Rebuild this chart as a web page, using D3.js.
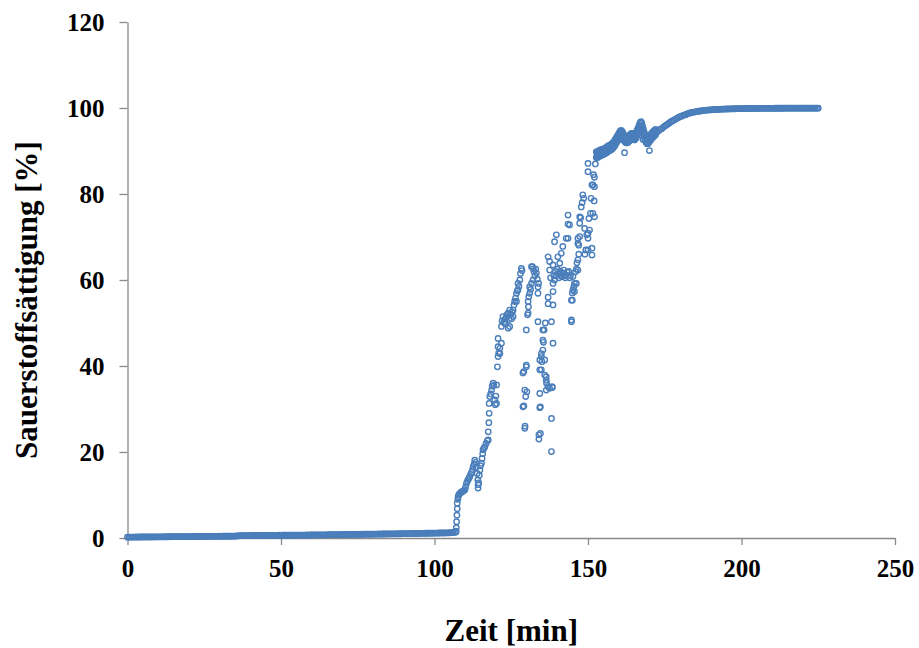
<!DOCTYPE html>
<html>
<head>
<meta charset="utf-8">
<script src="https://cdn.jsdelivr.net/npm/d3@7"></script>
<style>
  html, body { margin: 0; padding: 0; background: #fff; }
  svg { display: block; }
  .tick text, .title { font-family: "Liberation Serif", "Times New Roman", serif; font-weight: bold; fill: #000; }
</style>
</head>
<body>
<svg id="chart" width="919" height="648"></svg>
<script>
// ---------- DATA ----------
const xTicks = [0, 50, 100, 150, 200, 250];
const yTicks = [0, 20, 40, 60, 80, 100, 120];
const xTitle = "Zeit [min]";
const yTitle = "Sauerstoffsättigung [%]";

// baseline: sampled every 0.5 min from 0 to 107 min
const baselineStart = 0, baselineStep = 0.5;
const baselineValues = [
  0.20,0.21,0.20,0.22,0.21,0.22,0.23,0.22,0.23,0.24,
  0.23,0.24,0.25,0.24,0.25,0.26,0.25,0.26,0.27,0.26,
  0.27,0.28,0.27,0.28,0.29,0.28,0.29,0.30,0.29,0.30,
  0.31,0.30,0.31,0.32,0.31,0.32,0.33,0.32,0.33,0.34,
  0.33,0.34,0.35,0.34,0.35,0.36,0.35,0.36,0.37,0.36,
  0.37,0.38,0.37,0.38,0.39,0.38,0.39,0.40,0.39,0.40,
  0.41,0.40,0.41,0.42,0.41,0.42,0.43,0.42,0.43,0.44,
  0.45,0.47,0.50,0.53,0.55,0.56,0.55,0.56,0.57,0.56,
  0.57,0.58,0.57,0.58,0.59,0.58,0.59,0.60,0.59,0.60,
  0.61,0.60,0.61,0.62,0.61,0.62,0.63,0.62,0.63,0.64,
  0.63,0.64,0.65,0.64,0.65,0.66,0.65,0.66,0.67,0.66,
  0.67,0.68,0.67,0.68,0.69,0.68,0.69,0.70,0.69,0.70,
  0.71,0.72,0.71,0.72,0.73,0.74,0.73,0.74,0.75,0.74,
  0.75,0.76,0.77,0.76,0.77,0.78,0.79,0.78,0.79,0.80,
  0.81,0.80,0.81,0.82,0.83,0.82,0.83,0.84,0.85,0.84,
  0.85,0.86,0.87,0.86,0.87,0.88,0.89,0.88,0.89,0.90,
  0.91,0.90,0.91,0.92,0.93,0.92,0.93,0.94,0.95,0.94,
  0.95,0.96,0.97,0.96,0.97,0.98,0.99,0.98,0.99,1.00,
  1.01,1.00,1.02,1.03,1.02,1.04,1.05,1.04,1.06,1.07,
  1.06,1.08,1.09,1.08,1.10,1.11,1.10,1.12,1.13,1.12,
  1.14,1.15,1.14,1.16,1.17,1.18,1.17,1.19,1.20,1.21,
  1.22,1.24,1.26,1.30,1.40
];

// transition phase: [time min, saturation %]
const transitionPoints = [
  [107.0,1.6],[107.1,2.4],[107.2,3.8],[107.3,5.3],[107.4,6.8],[107.4,8.1],[107.6,9.0],[107.7,9.6],[107.9,10.0],[108.1,10.2],
  [108.3,10.4],[108.6,10.6],[108.9,10.7],[109.2,10.9],[109.5,11.0],[109.9,11.2],[110.1,11.8],[110.4,12.7],[110.7,13.2],[111.0,13.6],
  [111.3,14.0],[111.5,14.3],[111.8,14.8],[112.1,15.3],[112.4,15.9],[112.6,16.6],[112.9,17.2],[113.1,18.1],[113.4,17.6],[113.6,16.5],
  [113.9,15.0],[114.1,13.5],[114.2,12.4],[114.2,11.6],[114.4,12.8],[114.6,14.6],[114.8,15.8],[115.0,16.8],[115.3,17.4],[115.5,18.5],
  [115.7,19.6],[115.8,20.5],[116.1,20.9],[116.4,21.2],[116.8,22.0],[117.2,22.6],[117.5,22.8],[117.5,24.7],[117.7,26.8],[117.8,29.0],
  [117.8,31.3],[118.0,32.9],[118.3,33.5],[118.6,34.4],[118.8,35.3],[119.1,36.0],[119.3,35.5],[119.6,32.1],[119.8,31.0],[120.0,33.0],
  [120.2,35.6],[120.2,31.3],[120.5,39.8],[120.7,42.2],[120.7,44.5],[120.7,46.4],[120.9,43.0],[121.3,42.9],[121.3,44.1],[121.8,45.3],
  [121.8,49.2],[122.0,50.5],[122.3,51.5],[122.6,50.2],[122.9,49.9],[123.1,51.0],[123.4,51.5],[123.7,52.0],[124.0,52.3],[124.0,48.8],
  [124.3,50.8],[124.5,49.2],[124.5,53.0],[124.8,52.0],[125.1,51.0],[125.3,52.5],[125.6,51.5],[125.6,53.0],[125.9,54.2],[126.1,55.0],
  [126.4,55.8],[126.7,56.9],[126.7,55.0],[127.0,57.5],[127.2,57.7],[127.2,59.2],[127.5,58.5],[127.8,60.0],[128.0,61.5],[128.3,62.7],
  [128.5,62.2],[128.8,38.4],[128.8,30.5],[129.1,38.7],[129.1,30.7],[129.4,34.4],[129.4,25.5],[129.5,26.0],[129.7,32.9],[129.9,39.8],
  [129.9,40.2],[129.9,48.4],[130.1,34.0],[130.3,51.9],[130.5,52.3],[130.5,55.0],[130.6,53.8],[130.7,56.1],[131.0,56.9],[131.0,58.4],
  [131.3,57.8],[131.6,59.2],[131.6,63.1],[131.9,63.1],[132.1,60.0],[132.2,62.6],[132.4,62.0],[132.7,61.0],[133.0,62.5],[133.2,61.6],
  [133.5,60.2],[133.7,58.4],[133.7,56.9],[133.7,50.3],[133.9,59.2],[134.0,24.0],[134.0,23.0],[134.3,30.3],[134.3,33.6],[134.3,41.4],
  [134.3,39.1],[134.5,30.5],[134.5,24.3],[134.8,42.9],[134.8,42.2],[134.8,39.1],[135.0,41.0],[135.3,43.7],[135.3,46.0],[135.3,48.4],
  [135.5,45.5],[135.7,48.4],[135.9,37.9],[135.9,41.4],[136.1,50.0],[136.4,37.5],[136.4,36.7],[136.4,34.4],[136.5,36.0],[137.0,35.2],
  [137.0,56.0],[137.0,54.5],[137.0,65.4],[137.5,34.8],[137.5,62.3],[137.5,64.3],[137.8,60.5],[138.1,27.8],[138.1,20.1],[138.1,50.3],
  [138.3,35.2],[138.4,35.0],[138.6,45.3],[138.6,54.2],[138.6,57.3],[138.6,59.2],[138.6,63.5],[138.9,61.0],[139.1,60.0],[139.1,68.9],
  [139.4,62.0],[139.7,70.5],[139.7,61.0],[140.0,62.5],[140.2,65.4],[140.2,61.5],[140.5,60.5],[140.8,61.6],[140.8,63.9],[141.0,62.0],
  [141.3,66.2],[141.3,61.0],[141.6,60.8],[141.8,67.8],[141.8,61.6],[142.1,62.3],[142.4,61.0],[142.6,60.5],[142.9,69.7],[142.9,61.2],
  [143.2,61.8],[143.5,75.1],[143.5,73.0],[143.5,69.7],[143.7,62.0],[144.0,72.8],[144.0,60.5],[144.3,61.0],[144.6,50.3],[144.6,50.7],
  [144.6,55.3],[144.9,55.3],[144.9,57.0],[145.1,57.7],[145.1,60.8],[145.4,58.5],[145.6,57.3],[145.6,59.2],[145.9,61.9],[146.2,59.2],
  [146.2,62.5],[146.4,64.0],[146.7,62.3],[146.7,64.7],[146.7,68.5],[146.7,69.7],[147.0,66.0],[147.0,68.1],[147.3,70.1],[147.3,73.2],
  [147.3,74.7],[147.6,74.5],[147.8,77.0],[148.1,78.0],[148.3,79.8],[148.6,79.0],[148.9,72.0],[149.0,66.0],[149.3,67.0],[149.6,70.5],
  [150.0,67.0],[150.0,69.7],[150.0,70.9],[150.0,85.2],[150.0,87.1],[150.3,74.3],[150.5,71.6],[150.8,75.5],[151.0,79.0],[151.3,82.1],
  [151.3,67.4],[151.3,65.8],[151.6,75.5],[151.6,82.1],[151.8,84.5],[152.0,78.4],[152.1,83.9],[152.1,81.7],[152.1,74.7],[152.4,87.0],
  [152.7,88.5],[152.7,89.8],[152.9,88.6],[161.9,89.6],[167.9,92.7],[170.0,90.1]
];

// plateau band (upper and lower edge of the noisy trace): every 0.25 min, 153 to 172 min
const bandStart = 153, bandStep = 0.25;
const bandUpperValues = [
  89.8,89.9,90.0,90.1,90.2,90.3,90.3,90.4,90.4,90.5,
  90.6,90.7,90.8,91.0,91.1,91.2,91.3,91.4,91.5,91.6,
  91.8,92.0,92.2,92.5,92.8,93.1,93.4,93.7,94.0,94.3,
  94.6,94.8,94.7,94.4,94.0,93.6,93.4,93.2,93.1,93.1,
  93.2,93.4,93.6,93.8,94.0,94.1,94.1,93.9,93.8,93.8,
  94.1,94.4,94.8,95.2,95.7,96.2,96.6,96.8,96.5,95.9,
  95.2,94.5,93.9,93.4,93.1,92.9,92.9,93.1,93.4,93.6,
  93.9,94.1,94.3,94.5,94.7,94.8,95.0
];
const bandLowerValues = [
  88.6,88.5,88.8,88.9,89.0,88.9,89.1,89.2,89.2,89.3,
  89.4,89.5,89.6,89.8,89.9,90.0,90.1,90.2,90.3,90.4,
  90.6,90.8,91.0,91.3,91.6,91.9,92.2,92.5,92.8,93.1,
  93.4,93.6,93.5,93.2,92.8,92.4,92.2,92.0,91.9,91.9,
  92.0,92.2,92.4,92.6,92.8,92.9,92.9,92.7,92.6,92.6,
  92.9,93.2,93.6,94.0,94.5,95.0,95.4,95.6,95.3,94.7,
  94.0,93.3,92.7,92.2,91.9,91.7,91.7,91.9,92.2,92.4,
  92.7,92.9,93.1,93.3,93.5,93.6,93.8
];

// saturation tail: sampled every 0.5 min from 172.5 to 225 min
const tailStart = 172.5, tailStep = 0.5;
const tailValues = [
  94.4,94.7,95.0,95.2,95.5,95.8,96.0,96.3,96.5,96.8,
  97.0,97.2,97.4,97.6,97.8,98.0,98.1,98.3,98.4,98.5,
  98.7,98.8,98.9,99.0,99.05,99.1,99.2,99.25,99.3,99.35,
  99.4,99.45,99.5,99.52,99.55,99.58,99.6,99.62,99.65,99.67,
  99.69,99.7,99.72,99.74,99.75,99.77,99.78,99.79,99.8,99.81,
  99.82,99.83,99.84,99.85,99.86,99.86,99.87,99.87,99.88,99.88,
  99.89,99.89,99.9,99.9,99.9,99.91,99.91,99.91,99.92,99.92,
  99.92,99.92,99.93,99.93,99.93,99.93,99.93,99.94,99.94,99.94,
  99.94,99.94,99.94,99.95,99.95,99.95,99.95,99.95,99.95,99.95,
  99.95,99.96,99.96,99.96,99.96,99.96,99.96,99.96,99.96,99.96,
  99.96,99.96,99.97,99.97,99.97,99.97
];

// ---------- CHART ----------
const svg = d3.select("#chart");
const x = d3.scaleLinear().domain([0, 250]).range([127.5, 895]);
const y = d3.scaleLinear().domain([0, 120]).range([538, 22]);
const axisColor = "#898989";
const markerColor = "#4a7ebb";

const sampled = (start, step, vals) => vals.map((v, i) => [start + i * step, v]);
const allPoints = []
  .concat(sampled(baselineStart, baselineStep, baselineValues))
  .concat(transitionPoints)
  .concat(sampled(bandStart, bandStep, bandUpperValues))
  .concat(sampled(bandStart, bandStep, bandLowerValues))
  .concat(sampled(tailStart, tailStep, tailValues));

// axes
const xAxis = d3.axisBottom(x).tickValues(xTicks).tickSize(7).tickSizeOuter(0).tickPadding(14);
const yAxis = d3.axisLeft(y).tickValues(yTicks).tickSize(8).tickSizeOuter(0).tickPadding(15);

const gx = svg.append("g").attr("transform", `translate(0,${y(0)})`).call(xAxis);
const gy = svg.append("g").attr("transform", `translate(${x(0)},0)`).call(yAxis);

[gx, gy].forEach(g => {
  g.select(".domain").attr("stroke", axisColor).attr("stroke-width", 1.3);
  g.selectAll(".tick line").attr("stroke", axisColor).attr("stroke-width", 1.3);
  g.selectAll(".tick text").style("font-size", "25px");
});

// points
svg.append("g")
  .selectAll("circle")
  .data(allPoints)
  .join("circle")
  .attr("cx", d => x(d[0]))
  .attr("cy", d => y(d[1]))
  .attr("r", 2.7)
  .attr("fill", "none")
  .attr("stroke", markerColor)
  .attr("stroke-width", 1.4);

// titles
svg.append("text")
  .attr("class", "title")
  .attr("x", (x(0) + x(250)) / 2)
  .attr("y", 641)
  .attr("text-anchor", "middle")
  .style("font-size", "31px")
  .text(xTitle);

svg.append("text")
  .attr("class", "title")
  .attr("transform", `translate(37,300) rotate(-90)`)
  .attr("text-anchor", "middle")
  .style("font-size", "31px")
  .text(yTitle);
</script>
</body>
</html>
